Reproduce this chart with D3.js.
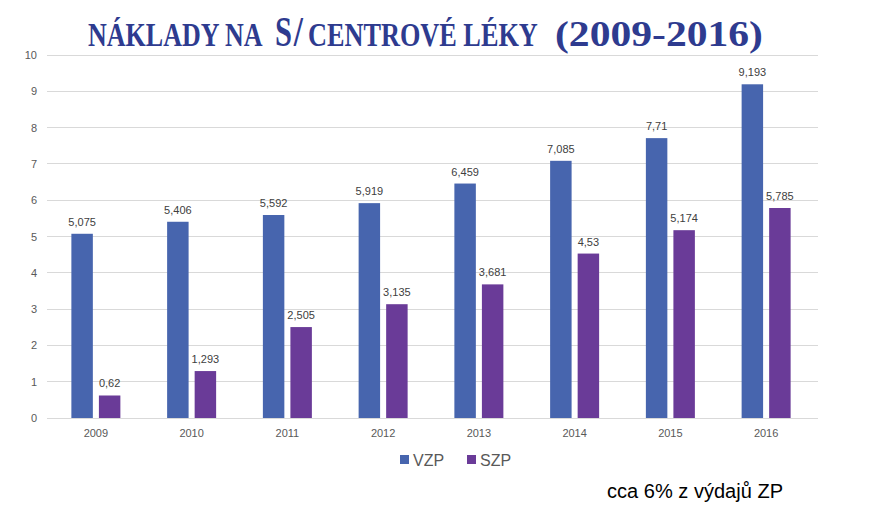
<!DOCTYPE html>
<html><head><meta charset="utf-8">
<script src="https://cdn.jsdelivr.net/npm/d3@7"></script>
<style>body{margin:0;background:#fff}svg{display:block}</style>
</head><body>
<script>
const categories = ["2009","2010","2011","2012","2013","2014","2015","2016"];
const seriesNames = ["VZP","SZP"];
const vzp = [5.075,5.406,5.592,5.919,6.459,7.085,7.71,9.193];
const szp = [0.62,1.293,2.505,3.135,3.681,4.53,5.174,5.785];
const yTicks = [0,1,2,3,4,5,6,7,8,9,10];
const titleParts = ["NÁKLADY NA","S","/","CENTROVÉ LÉKY","(2009-2016)"];
const colors = ["#4765AE","#6A3B98"];

const W=869,H=516;
const svg=d3.select("body").append("svg").attr("width",W).attr("height",H);
const x=d3.scaleBand().domain(categories).range([48,814]).padding(0);
const y=d3.scaleLinear().domain([0,10]).range([418,55]);
const fmt=v=>String(v).replace(".",",");

svg.append("g").selectAll("line").data(yTicks).join("line")
  .attr("x1",47).attr("x2",818).attr("y1",d=>y(d)).attr("y2",d=>y(d))
  .attr("stroke","#d9d9d9").attr("stroke-width",1).attr("shape-rendering","crispEdges");
svg.append("g").selectAll("text").data(yTicks).join("text")
  .attr("x",37).attr("y",d=>y(d)+4).attr("text-anchor","end")
  .attr("font-family","Liberation Sans, Arial, sans-serif").attr("font-size",11).attr("fill","#595959")
  .text(d=>d);
svg.append("g").selectAll("text").data(categories).join("text")
  .attr("x",d=>x(d)+x.bandwidth()/2).attr("y",437).attr("text-anchor","middle")
  .attr("font-family","Liberation Sans, Arial, sans-serif").attr("font-size",11).attr("fill","#595959")
  .text(d=>d);

const sub=d3.scaleBand().domain(seriesNames).range([0,49]).paddingInner(0.22);
[vzp,szp].forEach((vals,si)=>{
  const g=svg.append("g");
  const off=x.bandwidth()/2-24.5+sub(seriesNames[si]);
  g.selectAll("rect").data(vals).join("rect")
    .attr("x",(d,i)=>x(categories[i])+off).attr("width",sub.bandwidth())
    .attr("y",d=>y(d)).attr("height",d=>y(0)-y(d)).attr("fill",colors[si]);
  g.selectAll("text").data(vals).join("text")
    .attr("x",(d,i)=>x(categories[i])+off+sub.bandwidth()/2).attr("y",d=>y(d)-8)
    .attr("text-anchor","middle").attr("font-family","Liberation Sans, Arial, sans-serif")
    .attr("font-size",11).attr("fill","#404040").text(d=>fmt(d));
});

const leg=[{n:seriesNames[0],x:400},{n:seriesNames[1],x:467}];
leg.forEach((l,i)=>{
  svg.append("rect").attr("x",l.x).attr("y",455).attr("width",9).attr("height",9).attr("fill",colors[i]);
  svg.append("text").attr("x",l.x+13).attr("y",466).attr("font-family","Liberation Sans, Arial, sans-serif")
    .attr("font-size",16).attr("fill","#595959").text(l.n);
});

// title, each part fitted to its span
const spans=[[34,88,263],[42,275,292],[42,293,304],[33,308,538],[35,555,763]];
titleParts.forEach((t,i)=>{
  const [fs,x0,x1]=spans[i];
  const el=svg.append("text").attr("x",0).attr("y",46)
    .attr("font-family","Liberation Serif, DejaVu Serif, serif").attr("font-weight","bold")
    .attr("font-size",fs).attr("fill","#2E3B8F").text(t);
  const bb=el.node().getBBox();
  const s=(x1-x0)/bb.width;
  el.attr("transform",`translate(${x0-bb.x*s},0) scale(${s},1)`);
});

svg.append("text").attr("x",607).attr("y",498).attr("font-family","Liberation Sans, Arial, sans-serif")
  .attr("font-size",20).attr("fill","#000").attr("textLength",176).attr("lengthAdjust","spacingAndGlyphs")
  .text("cca 6% z výdajů ZP");
</script>
</body></html>
